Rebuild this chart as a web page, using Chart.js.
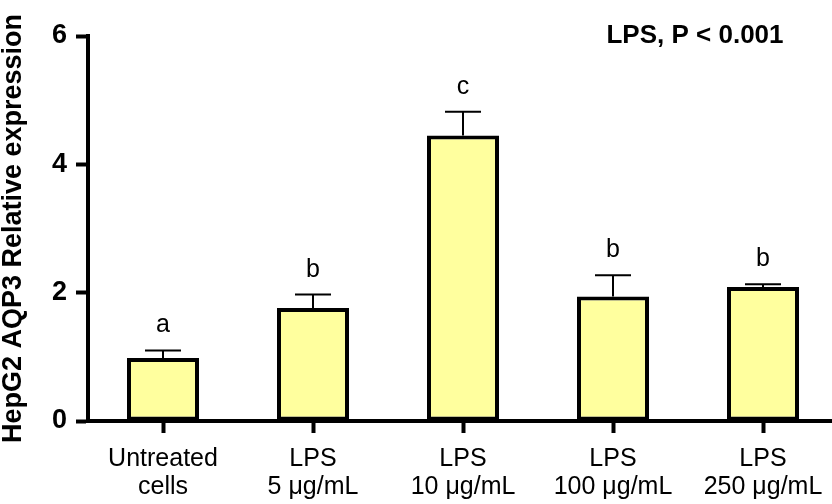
<!DOCTYPE html>
<html>
<head>
<meta charset="utf-8">
<script src="https://cdn.jsdelivr.net/npm/chart.js@4.4.1/dist/chart.umd.min.js"></script>
<style>
  html, body { margin: 0; padding: 0; background: #fff; overflow: hidden; }
  #wrap { width: 832px; height: 504px; overflow: hidden; }
</style>
</head>
<body>
<div id="wrap"><canvas id="chart" width="838" height="504"></canvas></div>
<script>
// data
const categories = [
    ['Untreated', 'cells'],
    ['LPS', '5 μg/mL'],
    ['LPS', '10 μg/mL'],
    ['LPS', '100 μg/mL'],
    ['LPS', '250 μg/mL']
];
const means = [0.98, 1.76, 4.45, 1.94, 2.09];
const errUpper = [1.10, 1.97, 4.82, 2.27, 2.13];
const letters = ['a', 'b', 'c', 'b', 'b'];
const yTicks = [0, 2, 4, 6];
const note = 'LPS, P < 0.001';

const FONT = '"Liberation Sans", Arial, sans-serif';

// error bars + letters + note
const extras = {
    id: 'extras',
    afterDatasetsDraw(chart) {
        const ctx = chart.ctx;
        const y = chart.scales.y;
        const meta = chart.getDatasetMeta(0);
        ctx.save();
        ctx.strokeStyle = '#000';
        ctx.fillStyle = '#000';
        meta.data.forEach((bar, i) => {
            const top = y.getPixelForValue(means[i]);
            const eTop = y.getPixelForValue(errUpper[i]);
            ctx.lineWidth = 2;
            ctx.beginPath();
            ctx.moveTo(bar.x, top);
            ctx.lineTo(bar.x, eTop);
            ctx.moveTo(bar.x - 18, eTop);
            ctx.lineTo(bar.x + 18, eTop);
            ctx.stroke();

            ctx.font = '25px ' + FONT;
            ctx.textAlign = 'center';
            ctx.textBaseline = 'alphabetic';
            ctx.fillText(letters[i], bar.x, eTop - 18);
        });
        ctx.font = 'bold 26px ' + FONT;
        ctx.textAlign = 'center';
        ctx.textBaseline = 'middle';
        ctx.fillText(note, 695, 36);
        ctx.restore();
    }
};

new Chart(document.getElementById('chart'), {
    type: 'bar',
    data: {
        labels: categories,
        datasets: [{
            data: means,
            backgroundColor: '#ffff9e',
            borderColor: '#000',
            borderWidth: 4,
            borderSkipped: false,
            barPercentage: 1,
            categoryPercentage: 0.48
        }]
    },
    options: {
        responsive: false,
        animation: false,
        layout: { padding: { top: 36, right: 0, left: 0, bottom: 0 } },
        plugins: { legend: { display: false }, tooltip: { enabled: false } },
        scales: {
            x: {
                grid: { offset: false, drawOnChartArea: false, tickLength: 12, tickWidth: 4, tickColor: '#000' },
                border: { color: '#000', width: 4 },
                ticks: { color: '#000', font: { family: FONT, size: 25, lineHeight: 1.12 }, padding: 12, maxRotation: 0, autoSkip: false },
                afterFit(scale) { scale.height = 83; }
            },
            y: {
                min: 0,
                max: 6,
                afterBuildTicks(scale) { scale.ticks = yTicks.map(v => ({ value: v })); },
                grid: { drawOnChartArea: false, tickLength: 12, tickWidth: 4, tickColor: '#000' },
                border: { color: '#000', width: 4 },
                ticks: { color: '#000', font: { family: FONT, size: 27, weight: 'bold' }, padding: 9 },
                title: {
                    display: true,
                    text: 'HepG2 AQP3 Relative expression',
                    color: '#000',
                    font: { family: FONT, size: 27, weight: 'bold', lineHeight: 1 },
                    padding: { top: 0, bottom: 0 }
                },
                afterFit(scale) { scale.width = 88; }
            }
        }
    },
    plugins: [extras]
});
</script>
</body>
</html>
